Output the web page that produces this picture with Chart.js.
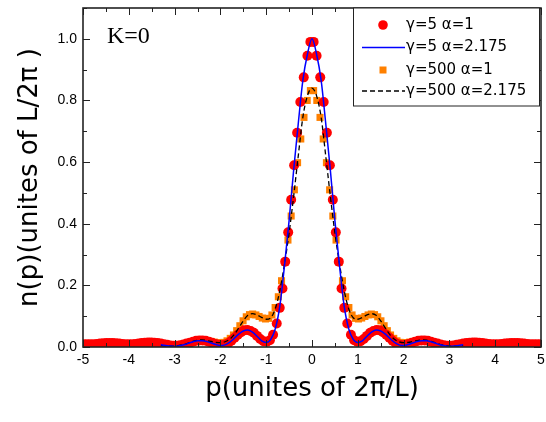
<!DOCTYPE html>
<html><head><meta charset="utf-8">
<script src="https://cdn.jsdelivr.net/npm/chart.js@4/dist/chart.umd.min.js"></script>
<style>html,body{margin:0;padding:0;background:#fff}#wrap{width:546px;height:422px}</style>
</head><body><div id="wrap"><canvas id="c" width="546" height="422"></canvas></div>
<script>
// ---- data ----
const seriesLabels = ['γ=5 α=1', 'γ=5 α=2.175', 'γ=500 α=1', 'γ=500 α=2.175'];
const xTickValues = [-5,-4,-3,-2,-1,0,1,2,3,4,5];
const yTickValues = [0.0,0.2,0.4,0.6,0.8,1.0];

// γ=5 α=1 (red circles), right and left halves
const redRightP = [0.035,0.10,0.18,0.255,0.325,0.39,0.455,0.52,0.585,0.645,0.705,0.77,0.85,0.92,0.99,1.06,1.13,1.20,1.27,1.34,1.41,1.48,1.55,1.62,1.69,1.76,1.83,1.90,1.97,2.04,2.11,2.18,2.25,2.32,2.39,2.46,2.53,2.60,2.67,2.74,2.81,2.88,2.95,3.02,3.09,3.16,3.23,3.30,3.37,3.44,3.51,3.58,3.65,3.72,3.79,3.86,3.93,4.00,4.07,4.14,4.21,4.28,4.35,4.42,4.49,4.56,4.63,4.70,4.77,4.84,4.91,4.98];
const redRightN = [0.99,0.945,0.875,0.795,0.695,0.59,0.478,0.372,0.277,0.19,0.127,0.076,0.04,0.022,0.017,0.019,0.026,0.036,0.046,0.052,0.055,0.054,0.048,0.04,0.03,0.02,0.012,0.008,0.006,0.007,0.01,0.014,0.017,0.02,0.021,0.021,0.02,0.017,0.014,0.011,0.008,0.006,0.004,0.004,0.005,0.007,0.009,0.011,0.013,0.014,0.015,0.015,0.014,0.013,0.011,0.01,0.009,0.009,0.009,0.01,0.011,0.012,0.013,0.013,0.013,0.012,0.011,0.01,0.009,0.009,0.009,0.009];
const redLeftP = [-0.035,-0.10,-0.18,-0.255,-0.325,-0.39,-0.455,-0.52,-0.585,-0.645,-0.705,-0.77,-0.85,-0.92,-0.99,-1.06,-1.13,-1.20,-1.27,-1.34,-1.41,-1.48,-1.55,-1.62,-1.69,-1.76,-1.83,-1.90,-1.97,-2.04,-2.11,-2.18,-2.25,-2.32,-2.39,-2.46,-2.53,-2.60,-2.67,-2.74,-2.81,-2.88,-2.95,-3.02,-3.09,-3.16,-3.23,-3.30,-3.37,-3.44,-3.51,-3.58,-3.65,-3.72,-3.79,-3.86,-3.93,-4.00,-4.07,-4.14,-4.21,-4.28,-4.35,-4.42,-4.49,-4.56,-4.63,-4.70,-4.77,-4.84,-4.91,-4.98];
const redLeftN = [0.99,0.945,0.875,0.795,0.695,0.59,0.478,0.372,0.277,0.19,0.127,0.076,0.04,0.022,0.017,0.019,0.026,0.036,0.046,0.052,0.055,0.054,0.048,0.04,0.03,0.02,0.012,0.008,0.006,0.007,0.01,0.014,0.017,0.02,0.021,0.021,0.02,0.017,0.014,0.011,0.008,0.006,0.004,0.004,0.005,0.007,0.009,0.011,0.013,0.014,0.015,0.015,0.014,0.013,0.011,0.01,0.009,0.009,0.009,0.01,0.011,0.012,0.013,0.013,0.013,0.012,0.011,0.01,0.009,0.009,0.009,0.009];

// γ=500 α=1 (orange squares)
const orangeRightP = [0.035,0.105,0.175,0.245,0.315,0.385,0.455,0.525,0.595,0.665,0.735,0.805,0.875,0.945,1.015,1.085,1.155,1.225,1.295,1.365,1.435,1.505,1.575,1.645,1.715,1.785,1.855,1.925,1.995,2.065,2.135,2.205,2.275,2.345,2.415,2.485,2.555,2.625,2.695,2.765,2.835,2.905,2.975,3.045,3.115,3.185,3.255,3.325];
const orangeRightN = [0.832,0.80,0.745,0.675,0.598,0.51,0.425,0.347,0.275,0.215,0.163,0.128,0.104,0.093,0.091,0.094,0.099,0.104,0.107,0.105,0.098,0.085,0.069,0.053,0.039,0.028,0.02,0.015,0.013,0.014,0.016,0.018,0.02,0.022,0.023,0.022,0.02,0.017,0.014,0.011,0.008,0.006,0.004,0.004,0.004,0.005,0.006,0.007];
const orangeLeftP = [-0.035,-0.105,-0.175,-0.245,-0.315,-0.385,-0.455,-0.525,-0.595,-0.665,-0.735,-0.805,-0.875,-0.945,-1.015,-1.085,-1.155,-1.225,-1.295,-1.365,-1.435,-1.505,-1.575,-1.645,-1.715,-1.785,-1.855,-1.925,-1.995,-2.065,-2.135,-2.205,-2.275,-2.345,-2.415,-2.485,-2.555,-2.625,-2.695,-2.765,-2.835,-2.905,-2.975,-3.045,-3.115,-3.185,-3.255,-3.325];
const orangeLeftN = [0.832,0.80,0.745,0.675,0.598,0.51,0.425,0.347,0.275,0.215,0.163,0.128,0.104,0.093,0.091,0.094,0.099,0.104,0.107,0.105,0.098,0.085,0.069,0.053,0.039,0.028,0.02,0.015,0.013,0.014,0.016,0.018,0.02,0.022,0.023,0.022,0.02,0.017,0.014,0.011,0.008,0.006,0.004,0.004,0.004,0.005,0.006,0.007];

// lines (α=2.175)
const lineP = [-3.3,-3.2,-3.1,-3.0,-2.9,-2.8,-2.7,-2.6,-2.5,-2.4,-2.3,-2.2,-2.1,-2.0,-1.9,-1.8,-1.7,-1.6,-1.5,-1.4,-1.3,-1.2,-1.1,-1.0,-0.9,-0.8,-0.7,-0.6,-0.5,-0.4,-0.3,-0.2,-0.1,0,0.1,0.2,0.3,0.4,0.5,0.6,0.7,0.8,0.9,1.0,1.1,1.2,1.3,1.4,1.5,1.6,1.7,1.8,1.9,2.0,2.1,2.2,2.3,2.4,2.5,2.6,2.7,2.8,2.9,3.0,3.1,3.2,3.3];
const blueN = [0.007,0.005,0.003,0.002,0.004,0.007,0.012,0.017,0.02,0.02,0.018,0.013,0.008,0.005,0.007,0.015,0.028,0.042,0.052,0.055,0.048,0.035,0.02,0.015,0.025,0.06,0.135,0.265,0.41,0.575,0.725,0.865,0.95,1.0,0.95,0.865,0.725,0.575,0.41,0.265,0.135,0.06,0.025,0.015,0.02,0.035,0.048,0.055,0.052,0.042,0.028,0.015,0.007,0.005,0.008,0.013,0.018,0.02,0.02,0.017,0.012,0.007,0.004,0.002,0.003,0.005,0.007];
const dashN = [0.005,0.004,0.003,0.003,0.005,0.008,0.013,0.018,0.022,0.023,0.021,0.018,0.015,0.014,0.017,0.025,0.04,0.062,0.085,0.103,0.108,0.104,0.096,0.09,0.095,0.125,0.185,0.27,0.37,0.49,0.62,0.745,0.815,0.84,0.815,0.745,0.62,0.49,0.37,0.27,0.185,0.125,0.095,0.09,0.096,0.104,0.108,0.103,0.085,0.062,0.04,0.025,0.017,0.014,0.015,0.018,0.021,0.023,0.022,0.018,0.013,0.008,0.005,0.003,0.003,0.004,0.005];

// ---- build ----
const pts = (ps, ns) => ps.map((p, i) => ({x: p, y: ns[i]}));
const RED = '#ff0000', BLUE = '#0000ff', ORANGE = '#ff8000', BLACK = '#000000';

const decor = {
  id: 'decor',
  afterDraw(chart) {
    const ctx = chart.ctx, ca = chart.chartArea;
    const xs = chart.scales.x, ys = chart.scales.y;
    ctx.save();
    ctx.strokeStyle = '#222'; ctx.lineWidth = 1;
    ctx.beginPath();
    for (let k = -10; k <= 10; k++) {
      const v = k / 2;
      const px = Math.round(xs.getPixelForValue(v)) + 0.5;
      const len = (k % 2 === 0) ? 7 : 4;
      ctx.moveTo(px, ca.bottom); ctx.lineTo(px, ca.bottom - len);
      ctx.moveTo(px, ca.top); ctx.lineTo(px, ca.top + len);
    }
    for (let k = 0; k <= 11; k++) {
      const v = k / 10;
      const py = Math.round(ys.getPixelForValue(v)) + 0.5;
      const len = (k % 2 === 0) ? 7 : 4;
      ctx.moveTo(ca.left, py); ctx.lineTo(ca.left + len, py);
      ctx.moveTo(ca.right, py); ctx.lineTo(ca.right - len, py);
    }
    ctx.stroke();
    ctx.strokeStyle = '#222'; ctx.lineWidth = 1.6;
    ctx.strokeRect(ca.left, ca.top, ca.right - ca.left, ca.bottom - ca.top);
    // K=0
    ctx.fillStyle = '#000';
    ctx.font = '24px "Liberation Serif"';
    ctx.textBaseline = 'middle'; ctx.textAlign = 'left';
    ctx.fillText('K=0', 107, 37);
    // legend box
    const bx = 353.5, by = ca.top, bw = 186, bh = 98;
    ctx.fillStyle = '#fff';
    ctx.fillRect(bx, by, bw, bh);
    ctx.strokeStyle = '#222'; ctx.lineWidth = 1;
    ctx.strokeRect(bx, by, bw, bh);
    const rows = [25, 47.5, 70, 91];
    const mx = 383, lx0 = 362, lx1 = 405, tx = 406;
    ctx.fillStyle = RED; ctx.beginPath(); ctx.arc(mx, rows[0], 4.8, 0, Math.PI * 2); ctx.fill();
    ctx.strokeStyle = BLUE; ctx.lineWidth = 1.5; ctx.beginPath(); ctx.moveTo(lx0, rows[1]); ctx.lineTo(lx1, rows[1]); ctx.stroke();
    ctx.fillStyle = ORANGE; ctx.fillRect(mx - 3.5, rows[2] - 3.5, 7, 7);
    ctx.strokeStyle = BLACK; ctx.lineWidth = 1.3; ctx.setLineDash([5, 3]);
    ctx.beginPath(); ctx.moveTo(lx0, rows[3]); ctx.lineTo(lx1, rows[3]); ctx.stroke();
    ctx.setLineDash([]);
    ctx.fillStyle = '#000'; ctx.font = '15px "DejaVu Sans"';
    seriesLabels.forEach((t, i) => ctx.fillText(t, tx, rows[i]));
    ctx.restore();
  }
};

new Chart(document.getElementById('c'), {
  type: 'scatter',
  data: {
    datasets: [
      {label: seriesLabels[1], data: pts(lineP, blueN), showLine: true, borderColor: BLUE, borderWidth: 1.5,
       pointRadius: 0, cubicInterpolationMode: 'monotone', order: 0},
      {label: seriesLabels[3], data: pts(lineP, dashN), showLine: true, borderColor: BLACK, borderWidth: 1.3,
       borderDash: [5, 3], pointRadius: 0, cubicInterpolationMode: 'monotone', order: 1},
      {label: seriesLabels[0], data: pts(redLeftP, redLeftN).concat(pts(redRightP, redRightN)), showLine: false,
       pointStyle: 'circle', pointRadius: 5, backgroundColor: RED, borderColor: RED, borderWidth: 0, order: 2},
      {label: seriesLabels[2], data: pts(orangeLeftP, orangeLeftN).concat(pts(orangeRightP, orangeRightN)), showLine: false,
       pointStyle: 'rect', pointRadius: 5, backgroundColor: ORANGE, borderColor: ORANGE, borderWidth: 0, order: 3}
    ]
  },
  options: {
    responsive: false, animation: false, devicePixelRatio: 1,
    layout: {padding: {top: 8, right: 4, left: 0, bottom: 0}},
    plugins: {legend: {display: false}, tooltip: {enabled: false}},
    scales: {
      x: {
        type: 'linear', min: -5, max: 5,
        afterBuildTicks: s => { s.ticks = xTickValues.map(v => ({value: v})); },
        ticks: {color: '#000', font: {family: '"Liberation Sans"', size: 14}, padding: 5, maxRotation: 0, autoSkip: false,
                callback: v => String(v)},
        grid: {display: false, drawTicks: false}, border: {display: false},
        title: {display: true, text: 'p(unites of 2π/L)', color: '#000', font: {family: '"DejaVu Sans"', size: 26},
                padding: {top: 0, bottom: 17}},
        afterFit: s => { s.height = 75; s.paddingLeft = 0; s.paddingRight = 0; }
      },
      y: {
        type: 'linear', min: 0, max: 1.1,
        afterBuildTicks: s => { s.ticks = yTickValues.map(v => ({value: v})); },
        ticks: {color: '#000', font: {family: '"Liberation Sans"', size: 14}, padding: 6,
                callback: v => v.toFixed(1)},
        grid: {display: false, drawTicks: false}, border: {display: false},
        title: {display: true, text: 'n(p)(unites of L/2π )', color: '#000', font: {family: '"DejaVu Sans"', size: 26},
                padding: {top: 15, bottom: 0}},
        afterFit: s => { s.width = 83; s.paddingTop = 0; s.paddingBottom = 0; }
      }
    }
  },
  plugins: [decor]
});
</script>
</body></html>
